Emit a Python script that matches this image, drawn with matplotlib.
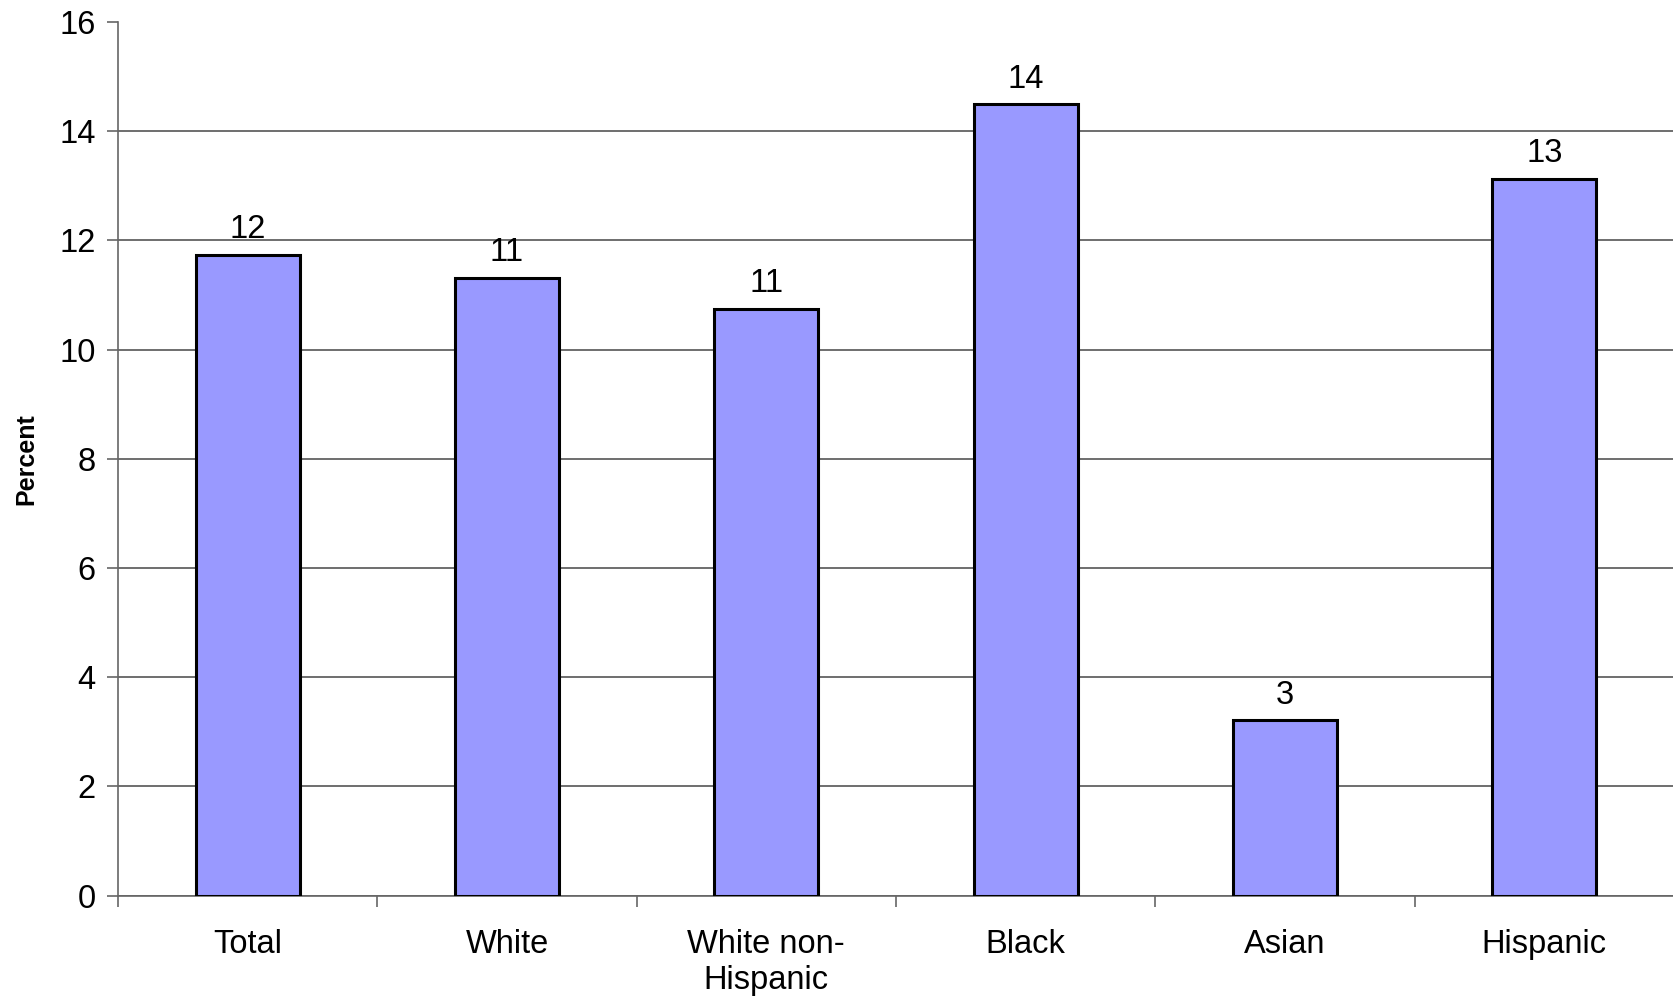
import numpy as np
import matplotlib.pyplot as plt

categories = ["Total", "White", "White non-\nHispanic", "Black", "Asian", "Hispanic"]
values = [11.73, 11.32, 10.75, 14.49, 3.21, 13.13]
value_labels = ["12", "11", "11", "14", "3", "13"]
yticks = [0, 2, 4, 6, 8, 10, 12, 14, 16]

plt.rcParams["font.family"] = ["Liberation Sans", "DejaVu Sans"]

fig = plt.figure(figsize=(16.74, 9.98), dpi=100)
ax = fig.add_axes([0.0705, 0.1025, 0.9295, 0.8755])

x = np.arange(len(categories))
bars = ax.bar(x, values, width=0.4, color="#9999ff", edgecolor="black",
              linewidth=2.2, zorder=3)

for xi, v, lab in zip(x, values, value_labels):
    ax.annotate(lab, (xi, v), xytext=(0, 7), textcoords="offset points",
                ha="center", va="bottom", fontsize=23.5)

ax.set_xlim(-0.5, len(categories) - 0.5)
ax.set_ylim(0, 16)
ax.set_yticks(yticks)
ax.tick_params(axis="y", labelsize=23.5, length=8, width=1.2, color="#666666",
               direction="out", pad=8)

ax.set_xticks(x)
ax.set_xticklabels(categories, fontsize=23.5, linespacing=1.2)
ax.tick_params(axis="x", length=0, pad=24)
ax.set_xticks(np.arange(-0.5, len(categories), 1), minor=True)
ax.tick_params(axis="x", which="minor", length=8, width=1.2, color="#666666",
               direction="out")

ax.yaxis.grid(True, color="#555555", linewidth=1.2, zorder=0)
ax.set_axisbelow(True)
# no gridline at the top of the axis
ax.yaxis.get_gridlines()[-1].set_visible(False)

for side in ["top", "right"]:
    ax.spines[side].set_visible(False)
for side in ["left", "bottom"]:
    ax.spines[side].set_color("#666666")
    ax.spines[side].set_linewidth(1.2)

ax.set_ylabel("Percent", fontsize=18, fontweight="bold", labelpad=15)

fig.savefig("out.png", dpi=100)
